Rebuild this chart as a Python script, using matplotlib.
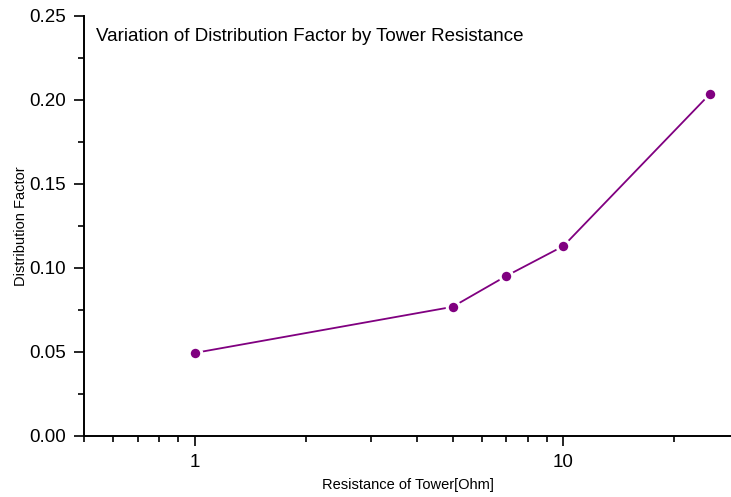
import matplotlib.pyplot as plt
from matplotlib.ticker import LogLocator, MultipleLocator, FixedFormatter, FixedLocator

plt.rcParams['font.family'] = ['Liberation Sans', 'DejaVu Sans']

# tower resistance [Ohm] vs distribution factor
resistance = [1, 5, 7, 10, 25]
dist_factor = [0.0494, 0.0768, 0.0952, 0.113, 0.2036]

fig = plt.figure(figsize=(7.31, 4.97), dpi=100)
ax = fig.add_axes([0.115, 0.123, 0.885, 0.845])

ax.plot(resistance, dist_factor, color='#800080', lw=1.3,
        marker='o', ms=9, mfc='#800080', mec='white', mew=2.2)

ax.set_xscale('log')
ax.set_xlim(0.5, 28.5)
ax.set_ylim(0, 0.25)

ax.xaxis.set_major_locator(FixedLocator([1, 10]))
ax.xaxis.set_major_formatter(FixedFormatter(['1', '10']))
ax.xaxis.set_minor_locator(LogLocator(base=10, subs=range(2, 10)))
ax.xaxis.set_minor_formatter(FixedFormatter([]))
ax.yaxis.set_major_locator(MultipleLocator(0.05))
ax.yaxis.set_minor_locator(MultipleLocator(0.025))
ax.yaxis.set_major_formatter(plt.FuncFormatter(lambda v, p: f'{v:.2f}'))

for s in ['top', 'right']:
    ax.spines[s].set_visible(False)
for s in ['left', 'bottom']:
    ax.spines[s].set_linewidth(1.4)

ax.tick_params(which='major', direction='out', length=7, width=1.2,
               labelsize=13.5, pad=6)
ax.tick_params(which='minor', direction='out', length=4, width=1.2)

ax.text(0.018, 0.972, 'Variation of Distribution Factor by Tower Resistance',
        transform=ax.transAxes, fontsize=13.5, va='top', ha='left')
ax.set_xlabel('Resistance of Tower[Ohm]', fontsize=10.5, labelpad=5)
ax.set_ylabel('Distribution Factor', fontsize=10.5, labelpad=1)

fig.savefig('out.png', dpi=100)
